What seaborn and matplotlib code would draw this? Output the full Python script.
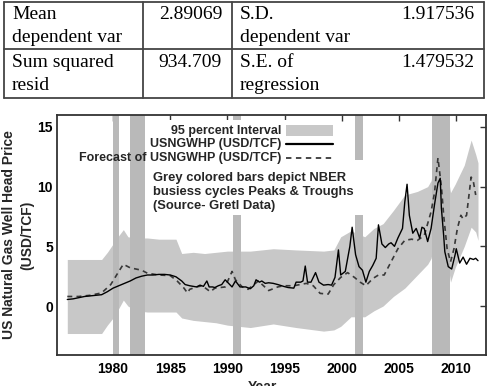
import matplotlib
matplotlib.use("Agg")
from matplotlib import pyplot as plt
from matplotlib.patches import Rectangle
import numpy as np
import pandas as pd
import seaborn as sns

# ---- data ----
actual_year = [1976.0, 1976.5, 1977.0, 1977.5, 1978.0, 1978.5, 1979.0, 1979.5, 1980.0, 1980.5,
               1981.0, 1981.5, 1982.0, 1982.5, 1983.0, 1983.5, 1984.0, 1984.5, 1985.0, 1985.5,
               1986.0, 1986.3, 1986.7, 1987.0, 1987.3, 1987.6, 1987.9, 1988.2, 1988.4, 1988.7,
               1988.9, 1989.2, 1989.5, 1989.8, 1990.1, 1990.4, 1990.7, 1991.1, 1991.6, 1992.0,
               1992.3, 1992.5, 1992.8, 1993.0, 1993.3, 1993.6, 1994.0, 1994.4, 1994.9, 1995.3,
               1995.8, 1996.0, 1996.4, 1996.6, 1996.8, 1997.0, 1997.3, 1997.7, 1998.0, 1998.4,
               1998.8, 1999.1, 1999.4, 1999.7, 1999.9, 2000.3, 2000.7, 2000.9, 2001.2, 2001.5,
               2001.8, 2002.1, 2002.4, 2002.7, 2003.0, 2003.2, 2003.5, 2003.8, 2004.1, 2004.3,
               2004.6, 2004.9, 2005.3, 2005.5, 2005.7, 2005.9, 2006.2, 2006.5, 2006.8, 2007.0,
               2007.2, 2007.5, 2007.8, 2008.1, 2008.4, 2008.6, 2008.7, 2008.9, 2009.0, 2009.3,
               2009.6, 2009.9, 2010.0, 2010.3, 2010.6, 2010.9, 2011.2, 2011.5, 2011.7, 2011.9]
actual_price = [0.55, 0.6, 0.7, 0.8, 0.85, 0.9, 0.95, 1.2, 1.5, 1.7,
                1.9, 2.1, 2.35, 2.5, 2.6, 2.6, 2.65, 2.65, 2.6, 2.45,
                2.1, 1.8, 1.7, 1.65, 1.6, 1.75, 1.65, 2.1, 1.6, 1.6,
                1.55, 1.7, 1.8, 2.2, 1.9, 1.6, 2.1, 1.6, 1.6, 1.45,
                1.7, 2.2, 2.0, 2.1, 1.9, 1.95, 1.9, 1.8, 1.65, 1.55,
                1.5, 2.0, 2.0, 2.1, 3.35, 2.0, 2.0, 2.8, 2.0, 1.75,
                1.8, 1.75, 2.4, 4.7, 2.6, 2.9, 5.0, 6.6, 4.3, 3.3,
                3.0, 2.0, 2.9, 3.4, 4.0, 6.8, 5.2, 4.9, 5.2, 5.3,
                5.0, 5.7, 6.5, 8.7, 10.2, 7.6, 6.1, 6.5, 5.7, 6.6,
                6.5, 5.4, 6.5, 8.5, 10.3, 10.7, 8.2, 5.9, 4.55, 3.3,
                3.1, 4.3, 4.8, 3.6, 4.1, 3.5, 4.0, 3.9, 4.0, 3.8]

forecast_year = [1976.0, 1977.0, 1978.0, 1979.0, 1979.8, 1980.5, 1980.9, 1981.5, 1982.5, 1983.0,
                 1984.0, 1985.0, 1985.6, 1986.2, 1986.5, 1986.7, 1987.3, 1987.8, 1988.5, 1988.9,
                 1989.8, 1990.4, 1990.7, 1991.3, 1991.8, 1992.7, 1993.6, 1994.4, 1994.9, 1995.8,
                 1996.9, 1997.5, 1998.1, 1998.8, 1999.3, 1999.9, 2000.5, 2001.1, 2001.6, 2002.1,
                 2002.7, 2003.2, 2003.7, 2004.3, 2004.9, 2005.5, 2006.1, 2006.6, 2007.2, 2007.8,
                 2008.1, 2008.4, 2008.7, 2008.9, 2009.2, 2009.5, 2009.8, 2010.1, 2010.4, 2010.6,
                 2010.9, 2011.3, 2011.5, 2011.7]
forecast_price = [0.8, 0.8, 0.9, 1.1, 1.8, 2.9, 3.5, 3.2, 3.0, 2.75,
                  2.6, 2.55, 2.1, 1.5, 1.1, 1.4, 1.6, 1.7, 1.2, 1.5,
                  1.6, 2.9, 2.2, 1.6, 1.4, 2.1, 1.3, 1.6, 1.7, 1.7,
                  1.9, 1.7, 1.06, 1.0, 1.8, 2.4, 2.8, 2.4, 2.0, 1.7,
                  2.3, 2.6, 2.6, 3.7, 4.8, 5.5, 5.6, 5.5, 5.9, 7.9,
                  9.5, 12.4, 10.0, 7.6, 4.8, 3.7, 4.8, 6.5, 7.6, 7.3,
                  7.6, 10.8, 10.4, 9.3]

band_year = [1976.0, 1979.0, 1979.5, 1980.0, 1980.5, 1980.9, 1981.3, 1982.0, 1983.0, 1984.0,
             1985.5, 1986.0, 1987.0, 1988.0, 1989.0, 1990.0, 1992.0, 1994.0, 1996.0, 1998.4,
             1999.3, 1999.9, 2000.8, 2002.0, 2002.8, 2003.6, 2004.5, 2005.5, 2006.6, 2007.5,
             2007.8, 2008.6, 2009.5, 2009.9, 2010.7, 2011.3, 2011.7, 2011.9]
band_low = [-2.3, -2.3, -1.6, -1.0, -0.2, 0.5, 0.0, -0.4, -0.5, -0.5,
            -0.5, -1.0, -1.2, -1.3, -1.4, -1.6, -1.8, -1.5, -1.8, -2.1,
            -2.0, -1.7, -0.9, -0.9, -0.4, 0.0, 0.8, 1.5, 2.6, 3.5,
            4.0, 8.0, 2.0, 3.2, 5.0, 6.6, 6.2, 5.5]
band_high = [3.9, 3.9, 4.5, 5.2, 5.9, 6.4, 5.8, 5.7, 5.7, 5.6,
             5.6, 4.4, 4.5, 4.4, 4.5, 4.6, 4.6, 4.8, 4.7, 4.6,
             4.7, 5.8, 6.3, 5.8, 6.5, 6.9, 8.0, 9.3, 9.6, 10.0,
             10.5, 15.0, 9.5, 10.2, 11.8, 13.9, 12.7, 12.0]

# NBER peaks & troughs
recession_start = [1980.0, 1981.5, 1990.5, 2001.17, 2007.92]
recession_end = [1980.5, 1982.83, 1991.17, 2001.83, 2009.42]

table_rows = [["Mean\ndependent var", "2.89069", "S.D.\ndependent var", "1.917536"],
              ["Sum squared\nresid", "934.709", "S.E. of\nregression", "1.479532"]]

legend_labels = ["95 percent Interval", "USNGWHP (USD/TCF)", "Forecast of USNGWHP (USD/TCF)"]
note_text = "Grey colored bars depict NBER\nbusiess cycles Peaks & Troughs\n(Source- Gretl Data)"

# ---- style ----
sns.set_theme(style="white")
plt.rcParams['font.family'] = ['Liberation Sans', 'DejaVu Sans']

W, H = 489, 386
fig = plt.figure(figsize=(W / 100, H / 100), dpi=100)

# table on top (pixel coordinates)
tab = fig.add_axes([0, 0, 1, 1])
tab.set_xlim(0, W)
tab.set_ylim(H, 0)
tab.axis("off")
col_x = [4, 143, 232, 484]
row_y = [2, 49, 98]
for y in row_y:
    tab.plot([col_x[0], col_x[-1]], [y, y], color="#444444", lw=1.3)
for x in col_x:
    tab.plot([x, x], [row_y[0], row_y[-1]], color="#444444", lw=1.3)
text_kw = dict(family=["Liberation Serif", "DejaVu Serif"], fontsize=14, color="black",
               va="baseline")
for r, row in enumerate(table_rows):
    base = 19 + r * 48
    for k, s in enumerate(row[0].split("\n")):
        tab.text(12, base + 23 * k, s, ha="left", **text_kw)
    for k, s in enumerate(row[2].split("\n")):
        tab.text(240, base + 23 * k, s, ha="left", **text_kw)
    tab.text(222, base, row[1], ha="right", **text_kw)
    tab.text(474, base, row[3], ha="right", **text_kw)

# chart
ax_l, ax_r, ax_t, ax_b = 57, 486, 115, 355
ax = fig.add_axes([ax_l / W, (H - ax_b) / H, (ax_r - ax_l) / W, (ax_b - ax_t) / H])
ax.set_facecolor("white")

ax.fill_between(band_year, band_low, band_high, color="#c8c8c8", lw=0, zorder=1)
for s, e in zip(recession_start, recession_end):
    ax.axvspan(s, e, color="#b9b9b9", lw=0, zorder=2)

actual = pd.DataFrame({"year": actual_year, "price": actual_price})
forecast = pd.DataFrame({"year": forecast_year, "price": forecast_price})
sns.lineplot(data=forecast, x="year", y="price", ax=ax, color="#383838", lw=1.2,
             linestyle=(0, (3, 2.5)), zorder=3)
sns.lineplot(data=actual, x="year", y="price", ax=ax, color="black", lw=1.0, zorder=3)

ax.set_xlim(1975.1, 2012.6)
ax.set_ylim(-4.1, 16)
ax.set_xticks([1980, 1985, 1990, 1995, 2000, 2005, 2010])
ax.set_yticks([0, 5, 10, 15])
ax.tick_params(direction="in", length=4, width=1, colors="#333333", top=True, right=True,
               labelsize=10)
ax.tick_params(axis="x", pad=5)
ax.tick_params(axis="y", pad=3)
for lab in ax.get_xticklabels() + ax.get_yticklabels():
    lab.set_fontweight("bold")
    lab.set_color("black")
for sp in ax.spines.values():
    sp.set_color("#333333")
    sp.set_linewidth(1.3)

ax.set_xlabel("Year", fontsize=10, fontweight="bold")
ax.xaxis.set_label_coords(0.48, -0.105)
ax.set_ylabel("US Natural Gas Well Head Price\n(USD/TCF)", fontsize=10, fontweight="bold",
              linespacing=1.4)
ax.yaxis.set_label_coords(-0.052, 0.5)


def axx(px):
    return (px - ax_l) / (ax_r - ax_l)


def axy(py):
    return (ax_b - py) / (ax_b - ax_t)


# white backgrounds behind key and note
tr = ax.transAxes
ax.add_patch(Rectangle((axx(150), axy(160)), axx(336) - axx(150), axy(120) - axy(160),
                       transform=tr, facecolor="white", edgecolor="none", zorder=4))
ax.add_patch(Rectangle((axx(150), axy(215)), axx(366) - axx(150), axy(160) - axy(215),
                       transform=tr, facecolor="white", edgecolor="none", zorder=4))

# key
key_y = [130.7, 144.3, 158.3]
for lab, yy in zip(legend_labels, key_y):
    ax.text(axx(281), axy(yy), lab, transform=tr, ha="right", va="center",
            fontsize=9, fontweight="bold", zorder=6)
ax.add_patch(Rectangle((axx(286), axy(136)), axx(333) - axx(286), axy(125) - axy(136),
                       transform=tr, facecolor="#c8c8c8", edgecolor="none", zorder=5))
ax.plot([axx(286), axx(333)], [axy(key_y[1])] * 2, transform=tr, color="black", lw=1.6, zorder=5)
ax.plot([axx(286), axx(333)], [axy(key_y[2])] * 2, transform=tr, color="#383838", lw=1.3,
        linestyle=(0, (3, 2.5)), zorder=5)

ax.text(axx(153), axy(192), note_text, transform=tr, ha="left", va="center",
        fontsize=9.4, fontweight="bold", linespacing=1.2, zorder=6)

fig.savefig("out.png", dpi=100)
